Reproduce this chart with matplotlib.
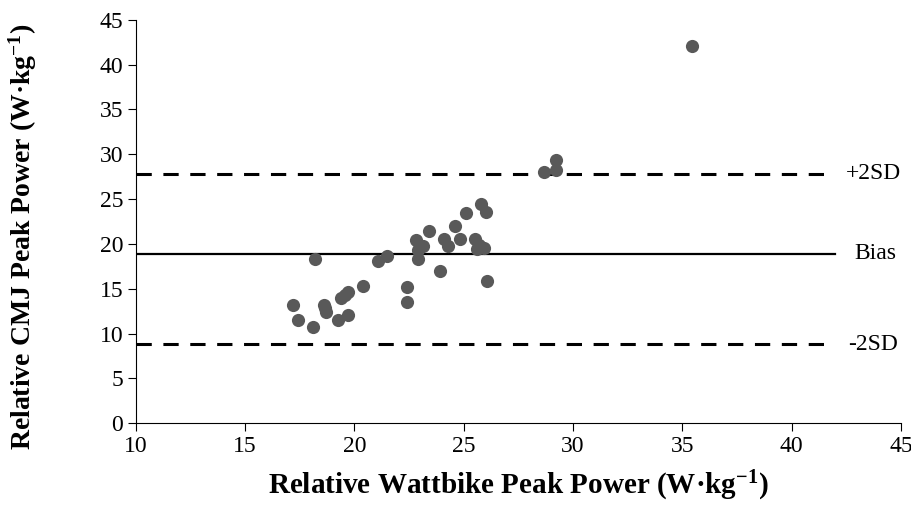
import matplotlib
matplotlib.use("Agg")
import matplotlib.pyplot as plt

# Bland-Altman style plot: Wattbike vs CMJ relative peak power
wattbike = [17.2, 17.4, 18.1, 18.2, 18.6, 18.65, 18.7, 19.25, 19.7, 19.4, 19.55, 19.7,
            20.4, 21.1, 21.5, 22.4, 22.4, 22.8, 22.9, 22.9, 23.15, 23.4, 23.9, 24.1,
            24.3, 24.6, 24.85, 25.1, 25.5, 25.6, 25.95, 25.8, 26.0, 26.05, 25.7,
            28.65, 29.2, 29.2, 35.45]
cmj = [13.2, 11.5, 10.7, 18.3, 13.2, 12.8, 12.35, 11.5, 12.1, 14.0, 14.3, 14.6,
       15.3, 18.1, 18.7, 15.15, 13.5, 20.4, 18.3, 19.3, 19.8, 21.4, 17.0, 20.5,
       19.8, 21.95, 20.5, 23.5, 20.55, 19.4, 19.55, 24.5, 23.6, 15.9, 19.9,
       28.0, 28.3, 29.4, 42.1]

bias = 18.9
upper = 27.8
lower = 8.8
line_end = 42

plt.rcParams['font.family'] = ['Liberation Serif', 'DejaVu Serif']
plt.rcParams['mathtext.fontset'] = 'custom'
plt.rcParams['mathtext.bf'] = 'Liberation Serif:bold'
plt.rcParams['mathtext.rm'] = 'Liberation Serif'

fig = plt.figure(figsize=(9.11, 5.08), dpi=100)
ax = fig.add_axes([0.149, 0.167, 0.840, 0.794])

ax.scatter(wattbike, cmj, s=90, color='#595959', zorder=3, linewidths=0)
ax.plot([10, line_end], [upper, upper], color='black', lw=2.2, dashes=(5, 3.8))
ax.plot([10, line_end], [bias, bias], color='black', lw=1.6)
ax.plot([10, line_end], [lower, lower], color='black', lw=2.2, dashes=(5, 3.8))

ax.text(42.5, upper, '+2SD', fontsize=17, va='center', ha='left')
ax.text(42.85, bias, 'Bias', fontsize=17, va='center', ha='left')
ax.text(42.6, lower, '-2SD', fontsize=17, va='center', ha='left')

ax.set_xlim(10, 45)
ax.set_ylim(0, 45)
ax.set_xticks(range(10, 46, 5))
ax.set_yticks(range(0, 46, 5))
ax.tick_params(labelsize=17, direction='out', length=6, width=0.8, colors='black', pad=3)
for s in ['top', 'right']:
    ax.spines[s].set_visible(False)
for s in ['left', 'bottom']:
    ax.spines[s].set_linewidth(0.8)

ax.set_xlabel(r'Relative Wattbike Peak Power (W·kg$\mathbf{^{-1}}$)', fontsize=21,
              fontweight='bold', labelpad=9)
ax.set_ylabel(r'Relative CMJ Peak Power (W·kg$\mathbf{^{-1}}$)', fontsize=20,
              fontweight='bold')
ax.yaxis.set_label_coords(-0.126, 0.463)

fig.savefig('out.png', dpi=100)
